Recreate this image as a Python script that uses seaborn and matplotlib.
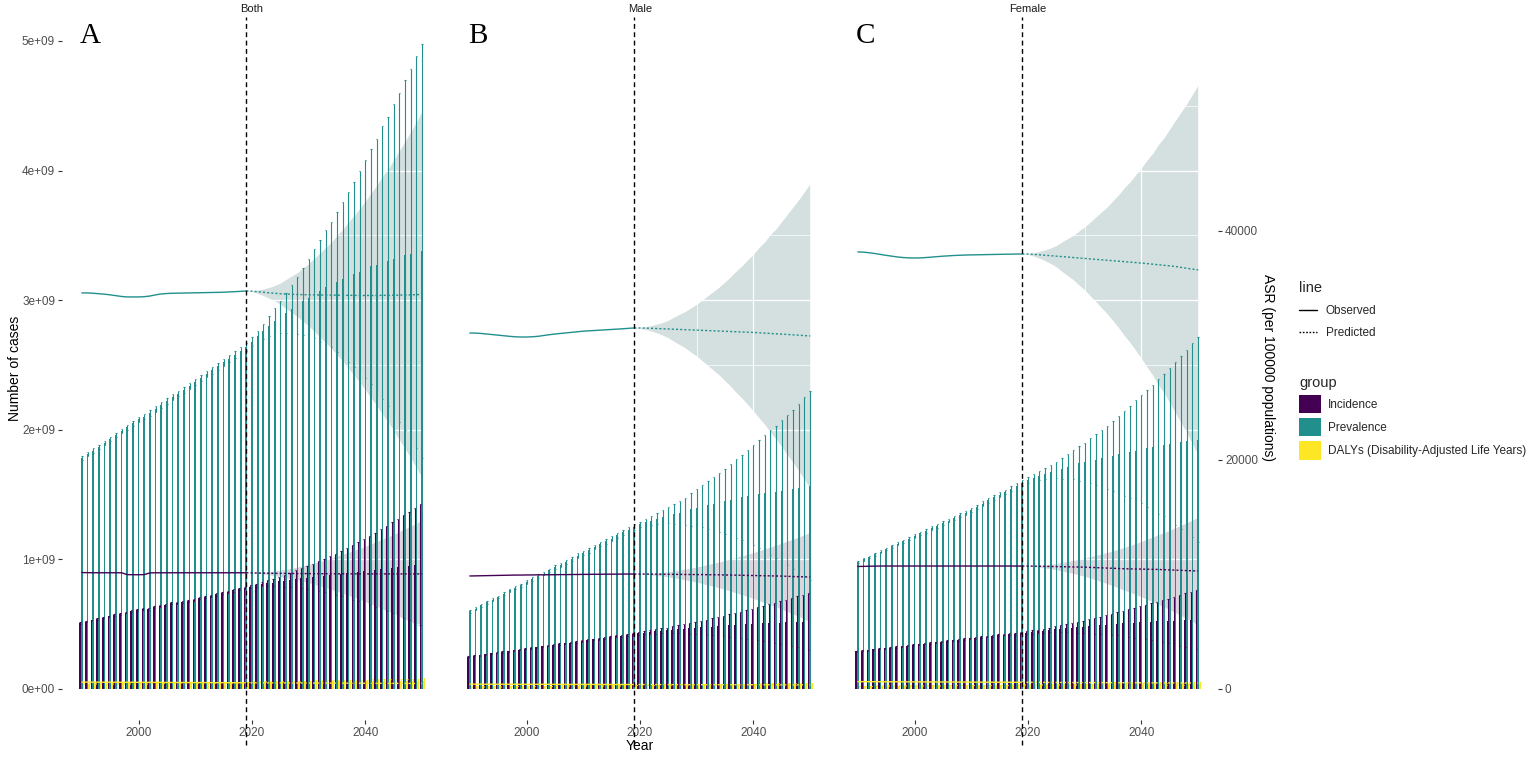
import numpy as np
import pandas as pd
import matplotlib
matplotlib.use("Agg")
import matplotlib.pyplot as plt
import seaborn as sns
from matplotlib.lines import Line2D
from matplotlib.patches import Patch

# ---------------- data ----------------
YEARS_OBS = list(range(1990, 2020))
YEARS_PRED = list(range(2020, 2051))
YEARS = YEARS_OBS + YEARS_PRED
GROUPS = ["Incidence", "Prevalence", "DALYs (Disability-Adjusted Life Years)"]
COLORS = ["#440154", "#21908C", "#FDE725"]
PANELS = ["Both", "Male", "Female"]
LETTERS = ["A", "B", "C"]

# number of cases (x 1e9), 1990-2050
both_inc = [0.51, 0.52, 0.53, 0.54, 0.55, 0.56, 0.57, 0.58, 0.59, 0.60, 0.61, 0.615, 0.62, 0.63, 0.64, 0.65, 0.66, 0.665, 0.67, 0.68,
            0.69, 0.70, 0.71, 0.72, 0.73, 0.74, 0.75, 0.76, 0.77, 0.78,
            0.79, 0.80, 0.81, 0.815, 0.82, 0.83, 0.835, 0.84, 0.85, 0.855, 0.86, 0.865, 0.87, 0.875, 0.88, 0.885, 0.89, 0.895, 0.90, 0.905,
            0.91, 0.915, 0.92, 0.925, 0.93, 0.935, 0.94, 0.945, 0.95, 0.955, 0.96]
both_inc_err = [0.006, 0.006, 0.006, 0.006, 0.006, 0.006, 0.007, 0.007, 0.007, 0.007, 0.007, 0.007, 0.007, 0.007, 0.008, 0.008, 0.008, 0.008, 0.008, 0.008,
                0.008, 0.009, 0.009, 0.009, 0.009, 0.009, 0.009, 0.010, 0.010, 0.010,
                0.011, 0.014, 0.018, 0.023, 0.029, 0.037, 0.047, 0.056, 0.065, 0.077, 0.088, 0.102, 0.116, 0.130, 0.143, 0.160, 0.176, 0.194, 0.210, 0.229,
                0.247, 0.268, 0.286, 0.309, 0.327, 0.350, 0.373, 0.396, 0.419, 0.445, 0.470]
both_prev = [1.78, 1.81, 1.84, 1.87, 1.90, 1.93, 1.96, 1.99, 2.02, 2.05, 2.08, 2.10, 2.13, 2.16, 2.19, 2.22, 2.25, 2.28, 2.31, 2.34,
             2.37, 2.40, 2.43, 2.46, 2.49, 2.52, 2.55, 2.58, 2.61, 2.64,
             2.68, 2.72, 2.76, 2.80, 2.84, 2.87, 2.90, 2.93, 2.96, 2.99, 3.02, 3.05, 3.07, 3.10, 3.12, 3.14, 3.16, 3.18, 3.20, 3.22,
             3.24, 3.26, 3.27, 3.29, 3.30, 3.32, 3.33, 3.35, 3.36, 3.37, 3.38]
both_prev_err = [0.015, 0.015, 0.016, 0.016, 0.017, 0.017, 0.018, 0.018, 0.019, 0.019, 0.020, 0.020, 0.021, 0.021, 0.022, 0.022, 0.023, 0.023, 0.024, 0.024,
                 0.025, 0.025, 0.026, 0.026, 0.027, 0.027, 0.028, 0.028, 0.029, 0.030,
                 0.035, 0.044, 0.058, 0.076, 0.096, 0.121, 0.156, 0.187, 0.218, 0.259, 0.297, 0.344, 0.391, 0.438, 0.485, 0.540, 0.595, 0.658, 0.713, 0.776,
                 0.839, 0.909, 0.972, 1.051, 1.113, 1.192, 1.270, 1.349, 1.427, 1.514, 1.600]
both_daly = [0.040, 0.040, 0.041, 0.041, 0.042, 0.042, 0.043, 0.043, 0.044, 0.044, 0.045, 0.045, 0.046, 0.046, 0.047, 0.047, 0.048, 0.048, 0.049, 0.049,
             0.050, 0.050, 0.051, 0.051, 0.052, 0.052, 0.053, 0.053, 0.054, 0.054,
             0.055, 0.055, 0.055, 0.056, 0.056, 0.056, 0.057, 0.057, 0.057, 0.058, 0.058, 0.058, 0.059, 0.059, 0.059, 0.060, 0.060, 0.060, 0.061, 0.061,
             0.061, 0.062, 0.062, 0.062, 0.063, 0.063, 0.063, 0.064, 0.064, 0.064, 0.065]
both_daly_err = [0.003, 0.003, 0.003, 0.003, 0.003, 0.003, 0.003, 0.003, 0.003, 0.003, 0.003, 0.003, 0.003, 0.003, 0.003, 0.003, 0.003, 0.003, 0.003, 0.003,
                 0.003, 0.003, 0.003, 0.003, 0.003, 0.003, 0.003, 0.003, 0.003, 0.003,
                 0.004, 0.004, 0.004, 0.005, 0.005, 0.005, 0.006, 0.006, 0.006, 0.007, 0.007, 0.008, 0.008, 0.009, 0.009, 0.010, 0.010, 0.011, 0.011, 0.012,
                 0.012, 0.013, 0.013, 0.014, 0.014, 0.015, 0.015, 0.016, 0.016, 0.017, 0.018]

male_inc = [0.25, 0.256, 0.262, 0.268, 0.274, 0.28, 0.286, 0.292, 0.298, 0.304, 0.31, 0.316, 0.322, 0.328, 0.334, 0.34, 0.346, 0.352, 0.358, 0.364,
            0.37, 0.376, 0.382, 0.388, 0.394, 0.40, 0.406, 0.412, 0.418, 0.424,
            0.43, 0.435, 0.44, 0.444, 0.448, 0.452, 0.456, 0.46, 0.464, 0.468, 0.472, 0.475, 0.478, 0.481, 0.484, 0.487, 0.49, 0.493, 0.496, 0.499,
            0.502, 0.504, 0.506, 0.508, 0.51, 0.512, 0.514, 0.516, 0.518, 0.52, 0.522]
male_inc_err = [0.004, 0.004, 0.004, 0.004, 0.004, 0.004, 0.005, 0.005, 0.005, 0.005, 0.005, 0.005, 0.005, 0.005, 0.006, 0.006, 0.006, 0.006, 0.006, 0.006,
                0.006, 0.007, 0.007, 0.007, 0.007, 0.007, 0.007, 0.008, 0.008, 0.008,
                0.011, 0.012, 0.014, 0.016, 0.019, 0.022, 0.027, 0.031, 0.035, 0.041, 0.046, 0.052, 0.058, 0.065, 0.071, 0.078, 0.086, 0.094, 0.101, 0.110,
                0.118, 0.128, 0.136, 0.147, 0.155, 0.165, 0.176, 0.186, 0.197, 0.208, 0.220]
male_prev = [0.60, 0.62, 0.645, 0.67, 0.69, 0.71, 0.735, 0.76, 0.78, 0.80, 0.825, 0.85, 0.87, 0.89, 0.915, 0.94, 0.96, 0.98, 1.005, 1.03,
             1.05, 1.07, 1.095, 1.12, 1.14, 1.16, 1.185, 1.21, 1.23, 1.25,
             1.27, 1.285, 1.30, 1.315, 1.33, 1.34, 1.35, 1.36, 1.37, 1.385, 1.40, 1.41, 1.42, 1.43, 1.44, 1.45, 1.46, 1.47, 1.48, 1.49,
             1.50, 1.505, 1.51, 1.515, 1.52, 1.53, 1.535, 1.54, 1.55, 1.56, 1.57]
male_prev_err = [0.010, 0.010, 0.010, 0.011, 0.011, 0.011, 0.012, 0.012, 0.012, 0.013, 0.013, 0.013, 0.014, 0.014, 0.014, 0.015, 0.015, 0.015, 0.016, 0.016,
                 0.016, 0.017, 0.017, 0.017, 0.018, 0.018, 0.018, 0.019, 0.019, 0.020,
                 0.022, 0.026, 0.033, 0.041, 0.050, 0.061, 0.077, 0.091, 0.105, 0.124, 0.141, 0.162, 0.183, 0.205, 0.226, 0.251, 0.276, 0.304, 0.329, 0.357,
                 0.386, 0.418, 0.446, 0.482, 0.510, 0.545, 0.581, 0.616, 0.652, 0.691, 0.730]
male_daly = [0.020, 0.020, 0.020, 0.021, 0.021, 0.021, 0.022, 0.022, 0.022, 0.023, 0.023, 0.023, 0.024, 0.024, 0.024, 0.025, 0.025, 0.025, 0.026, 0.026,
             0.026, 0.027, 0.027, 0.027, 0.028, 0.028, 0.028, 0.029, 0.029, 0.029,
             0.030, 0.030, 0.030, 0.030, 0.031, 0.031, 0.031, 0.031, 0.032, 0.032, 0.032, 0.032, 0.033, 0.033, 0.033, 0.033, 0.034, 0.034, 0.034, 0.034,
             0.035, 0.035, 0.035, 0.035, 0.036, 0.036, 0.036, 0.036, 0.037, 0.037, 0.037]
male_daly_err = [0.002, 0.002, 0.002, 0.002, 0.002, 0.002, 0.002, 0.002, 0.002, 0.002, 0.002, 0.002, 0.002, 0.002, 0.002, 0.002, 0.002, 0.002, 0.002, 0.002,
                 0.002, 0.002, 0.002, 0.002, 0.002, 0.002, 0.002, 0.002, 0.002, 0.002,
                 0.003, 0.003, 0.003, 0.003, 0.003, 0.004, 0.004, 0.004, 0.004, 0.005, 0.005, 0.005, 0.005, 0.006, 0.006, 0.006, 0.006, 0.007, 0.007, 0.007,
                 0.007, 0.008, 0.008, 0.008, 0.008, 0.009, 0.009, 0.009, 0.009, 0.010, 0.010]

female_inc = [0.29, 0.295, 0.30, 0.305, 0.31, 0.315, 0.32, 0.325, 0.33, 0.335, 0.34, 0.345, 0.35, 0.355, 0.36, 0.365, 0.37, 0.375, 0.38, 0.385,
              0.39, 0.395, 0.40, 0.405, 0.41, 0.415, 0.42, 0.423, 0.427, 0.43,
              0.435, 0.44, 0.445, 0.45, 0.455, 0.46, 0.464, 0.468, 0.472, 0.476, 0.48, 0.484, 0.488, 0.492, 0.496, 0.50, 0.503, 0.506, 0.509, 0.512,
              0.515, 0.517, 0.519, 0.521, 0.523, 0.525, 0.527, 0.529, 0.531, 0.533, 0.535]
female_inc_err = [0.004, 0.004, 0.004, 0.004, 0.004, 0.004, 0.005, 0.005, 0.005, 0.005, 0.005, 0.005, 0.005, 0.005, 0.006, 0.006, 0.006, 0.006, 0.006, 0.006,
                  0.006, 0.007, 0.007, 0.007, 0.007, 0.007, 0.007, 0.008, 0.008, 0.008,
                  0.011, 0.012, 0.014, 0.016, 0.019, 0.023, 0.028, 0.032, 0.036, 0.042, 0.047, 0.054, 0.061, 0.067, 0.074, 0.082, 0.089, 0.098, 0.106, 0.115,
                  0.123, 0.133, 0.142, 0.153, 0.162, 0.173, 0.184, 0.195, 0.206, 0.218, 0.230]
female_prev = [0.98, 1.00, 1.02, 1.04, 1.06, 1.08, 1.10, 1.12, 1.14, 1.16, 1.18, 1.20, 1.22, 1.24, 1.26, 1.28, 1.30, 1.32, 1.34, 1.36,
               1.38, 1.405, 1.43, 1.455, 1.48, 1.50, 1.52, 1.545, 1.57, 1.59,
               1.61, 1.63, 1.645, 1.66, 1.675, 1.69, 1.70, 1.715, 1.73, 1.74, 1.75, 1.76, 1.77, 1.78, 1.79, 1.80, 1.81, 1.82, 1.83, 1.84,
               1.85, 1.858, 1.866, 1.874, 1.882, 1.89, 1.897, 1.904, 1.911, 1.918, 1.925]
female_prev_err = [0.010, 0.010, 0.010, 0.011, 0.011, 0.011, 0.012, 0.012, 0.012, 0.013, 0.013, 0.013, 0.014, 0.014, 0.014, 0.015, 0.015, 0.015, 0.016, 0.016,
                   0.016, 0.017, 0.017, 0.017, 0.018, 0.018, 0.018, 0.019, 0.019, 0.020,
                   0.022, 0.027, 0.034, 0.042, 0.052, 0.065, 0.082, 0.097, 0.112, 0.132, 0.151, 0.174, 0.197, 0.220, 0.243, 0.270, 0.297, 0.328, 0.355, 0.386,
                   0.417, 0.451, 0.482, 0.521, 0.551, 0.590, 0.628, 0.667, 0.705, 0.748, 0.790]
female_daly = [0.024, 0.024, 0.024, 0.025, 0.025, 0.025, 0.026, 0.026, 0.026, 0.027, 0.027, 0.027, 0.028, 0.028, 0.028, 0.029, 0.029, 0.029, 0.030, 0.030,
               0.030, 0.031, 0.031, 0.031, 0.032, 0.032, 0.032, 0.033, 0.033, 0.033,
               0.034, 0.034, 0.034, 0.034, 0.035, 0.035, 0.035, 0.035, 0.036, 0.036, 0.036, 0.036, 0.037, 0.037, 0.037, 0.037, 0.038, 0.038, 0.038, 0.038,
               0.039, 0.039, 0.039, 0.039, 0.040, 0.040, 0.040, 0.040, 0.041, 0.041, 0.041]
female_daly_err = male_daly_err

# age-standardised rates (per 100000): observed 1990-2019, predicted 2020-2050, CI half-width 2020-2050
both_asr_prev_obs = [34590, 34590, 34560, 34520, 34480, 34420, 34350, 34280, 34240, 34240, 34240, 34260, 34320, 34420, 34500, 34540, 34560, 34570, 34580, 34590,
                     34600, 34610, 34620, 34630, 34640, 34650, 34680, 34700, 34730, 34760]
both_asr_prev_pred = [34740, 34700, 34650, 34600, 34560, 34520, 34490, 34470, 34450, 34440, 34430, 34420, 34410, 34400, 34400, 34390, 34390, 34380, 34380, 34370,
                      34370, 34370, 34370, 34380, 34380, 34390, 34400, 34410, 34420, 34440, 34460]
both_asr_prev_ci = [48, 144, 288, 464, 672, 928, 1280, 1600, 1920, 2336, 2720, 3200, 3680, 4160, 4640, 5200, 5760, 6400, 6960, 7600,
                    8240, 8960, 9600, 10400, 11040, 11840, 12640, 13440, 14240, 15120, 16000]
both_asr_inc_obs = [10170, 10160, 10150, 10150, 10150, 10150, 10150, 10150, 9990, 9980, 9980, 9990, 10140, 10150, 10150, 10150, 10150, 10150, 10150, 10150,
                    10150, 10150, 10150, 10150, 10150, 10150, 10150, 10150, 10150, 10150]
both_asr_inc_pred = [10140, 10130, 10120, 10110, 10100, 10100, 10090, 10090, 10080, 10080, 10080, 10070, 10070, 10070, 10060, 10060, 10060, 10060, 10060, 10050,
                     10050, 10050, 10050, 10050, 10050, 10050, 10050, 10050, 10050, 10050, 10050]
both_asr_inc_ci = [14, 42, 85, 136, 197, 273, 376, 470, 564, 686, 799, 940, 1081, 1222, 1363, 1528, 1692, 1880, 2045, 2233,
                   2421, 2632, 2820, 3055, 3243, 3478, 3713, 3948, 4183, 4442, 4700]
both_asr_daly_obs = [600, 600, 598, 596, 594, 592, 590, 588, 586, 584, 582, 580, 578, 576, 574, 572, 570, 568, 566, 564,
                     562, 560, 558, 556, 554, 552, 550, 548, 546, 544]
both_asr_daly_pred = [542, 540, 538, 536, 534, 532, 530, 528, 526, 524, 522, 520, 518, 516, 514, 512, 510, 508, 506, 504,
                      502, 500, 498, 496, 494, 492, 490, 488, 486, 484, 482]

male_asr_prev_obs = [31090, 31080, 31050, 31000, 30950, 30900, 30850, 30800, 30760, 30740, 30740, 30760, 30800, 30870, 30940, 31000, 31050, 31100, 31150, 31200,
                     31250, 31280, 31310, 31340, 31370, 31400, 31430, 31460, 31500, 31530]
male_asr_prev_pred = [31530, 31520, 31500, 31480, 31460, 31440, 31420, 31400, 31380, 31360, 31340, 31320, 31300, 31280, 31260, 31240, 31220, 31200, 31180, 31160,
                      31140, 31110, 31080, 31050, 31020, 30990, 30960, 30930, 30900, 30860, 30830]
male_asr_prev_ci = [40, 120, 239, 386, 559, 771, 1064, 1330, 1596, 1942, 2261, 2660, 3059, 3458, 3857, 4323, 4788, 5320, 5786, 6318,
                    6850, 7448, 7980, 8645, 9177, 9842, 10507, 11172, 11837, 12569, 13300]
male_asr_inc_obs = [9870, 9880, 9890, 9900, 9910, 9920, 9930, 9940, 9950, 9950, 9960, 9960, 9970, 9970, 9980, 9980, 9990, 9990, 10000, 10000,
                    10010, 10010, 10020, 10020, 10030, 10030, 10030, 10040, 10040, 10040]
male_asr_inc_pred = [10040, 10040, 10030, 10030, 10020, 10020, 10010, 10010, 10000, 10000, 9990, 9990, 9980, 9980, 9970, 9960, 9950, 9940, 9930, 9920,
                     9910, 9900, 9890, 9880, 9870, 9860, 9840, 9820, 9810, 9790, 9780]
male_asr_inc_ci = [12, 35, 70, 113, 164, 226, 312, 390, 468, 569, 663, 780, 897, 1014, 1131, 1268, 1404, 1560, 1697, 1853,
                   2009, 2184, 2340, 2535, 2691, 2886, 3081, 3276, 3471, 3686, 3900]
male_asr_daly_obs = [420, 420, 419, 418, 417, 416, 415, 414, 413, 412, 411, 410, 409, 408, 407, 406, 405, 404, 403, 402,
                     401, 400, 399, 398, 397, 396, 395, 394, 393, 392]
male_asr_daly_pred = [391, 390, 389, 388, 387, 386, 385, 384, 383, 382, 381, 380, 379, 378, 377, 376, 375, 374, 373, 372,
                      371, 370, 369, 368, 367, 366, 365, 364, 363, 362, 361]

female_asr_prev_obs = [38170, 38150, 38100, 38030, 37950, 37870, 37800, 37730, 37680, 37650, 37640, 37650, 37680, 37720, 37760, 37800, 37830, 37860, 37880, 37900,
                       37910, 37920, 37930, 37940, 37950, 37960, 37970, 37975, 37985, 37990]
female_asr_prev_pred = [37990, 37960, 37920, 37880, 37840, 37800, 37760, 37720, 37680, 37640, 37600, 37560, 37520, 37480, 37440, 37400, 37360, 37320, 37280, 37240,
                        37200, 37150, 37100, 37050, 37000, 36950, 36900, 36820, 36740, 36670, 36600]
female_asr_prev_ci = [48, 145, 291, 468, 678, 937, 1292, 1615, 1938, 2358, 2746, 3230, 3715, 4199, 4684, 5249, 5814, 6460, 7025, 7671,
                      8317, 9044, 9690, 10498, 11144, 11951, 12759, 13566, 14374, 15262, 16150]
female_asr_inc_obs = [10700, 10710, 10720, 10730, 10740, 10740, 10740, 10740, 10740, 10740, 10740, 10740, 10740, 10740, 10740, 10740, 10740, 10740, 10740, 10740,
                      10740, 10740, 10740, 10740, 10740, 10740, 10740, 10740, 10740, 10740]
female_asr_inc_pred = [10740, 10730, 10720, 10710, 10700, 10690, 10680, 10670, 10660, 10650, 10640, 10620, 10600, 10580, 10560, 10540, 10520, 10500, 10490, 10480,
                       10470, 10460, 10450, 10440, 10420, 10400, 10380, 10360, 10340, 10320, 10310]
female_asr_inc_ci = [14, 42, 85, 136, 197, 273, 376, 470, 564, 686, 799, 940, 1081, 1222, 1363, 1528, 1692, 1880, 2045, 2233,
                     2421, 2632, 2820, 3055, 3243, 3478, 3713, 3948, 4183, 4442, 4700]
female_asr_daly_obs = [640, 640, 638, 636, 634, 632, 630, 628, 626, 624, 622, 620, 618, 616, 614, 612, 610, 608, 606, 604,
                       602, 600, 598, 596, 594, 592, 590, 588, 586, 584]
female_asr_daly_pred = [582, 580, 578, 576, 574, 572, 570, 568, 566, 564, 562, 560, 558, 556, 554, 552, 550, 548, 546, 544,
                        542, 540, 538, 536, 534, 532, 530, 528, 526, 524, 522]

# cases per one unit of ASR on the shared vertical scale (right axis 40000 <-> 3.534e9 cases)
K = 3.534e9 / 40000.0

panel_data = [
    dict(bars=(both_inc, both_prev, both_daly), errs=(both_inc_err, both_prev_err, both_daly_err),
         asr_obs=(both_asr_inc_obs, both_asr_prev_obs, both_asr_daly_obs),
         asr_pred=(both_asr_inc_pred, both_asr_prev_pred, both_asr_daly_pred),
         asr_ci=(both_asr_inc_ci, both_asr_prev_ci)),
    dict(bars=(male_inc, male_prev, male_daly), errs=(male_inc_err, male_prev_err, male_daly_err),
         asr_obs=(male_asr_inc_obs, male_asr_prev_obs, male_asr_daly_obs),
         asr_pred=(male_asr_inc_pred, male_asr_prev_pred, male_asr_daly_pred),
         asr_ci=(male_asr_inc_ci, male_asr_prev_ci)),
    dict(bars=(female_inc, female_prev, female_daly), errs=(female_inc_err, female_prev_err, female_daly_err),
         asr_obs=(female_asr_inc_obs, female_asr_prev_obs, female_asr_daly_obs),
         asr_pred=(female_asr_inc_pred, female_asr_prev_pred, female_asr_daly_pred),
         asr_ci=(female_asr_inc_ci, female_asr_prev_ci)),
]
for pdict in panel_data:
    for s in pdict["bars"] + pdict["errs"]:
        assert len(s) == 61, len(s)
    for s in pdict["asr_obs"]:
        assert len(s) == 30, len(s)
    for s in pdict["asr_pred"] + pdict["asr_ci"]:
        assert len(s) == 31, len(s)

# ---------------- style ----------------
sns.set_theme(style="white")
plt.rcParams["font.family"] = ["Liberation Sans", "DejaVu Sans"]

W, H = 1535, 759
fig = plt.figure(figsize=(W / 100, H / 100), dpi=100)

PANEL_LEFT = [62, 450, 838]
PANEL_W = 380
TOP_PX, BOT_PX = 17, 720
XLIM = (1986.5, 2053.5)
YLIM = (-0.2392e9, 5.185e9)
PX_PER_CASE = (BOT_PX - TOP_PX) / (YLIM[1] - YLIM[0])
RIBBON_COL = ["#ddd4de", "#d4dfdf"]
TICK_COL = "#4d4d4d"
OFFS = [-0.3, 0.0, 0.3]

axes = []
for i, name in enumerate(PANELS):
    ax = fig.add_axes([PANEL_LEFT[i] / W, 1 - BOT_PX / H, PANEL_W / W, (BOT_PX - TOP_PX) / H])
    axes.append(ax)
    d = panel_data[i]

    # bars
    rows = []
    for g, vals in zip(GROUPS, d["bars"]):
        for y, v in zip(YEARS, vals):
            rows.append((y, g, v * 1e9))
    df = pd.DataFrame(rows, columns=["year", "group", "value"])
    sns.barplot(data=df, x="year", y="value", hue="group", hue_order=GROUPS, palette=COLORS,
                native_scale=True, width=0.9, dodge=True, errorbar=None, saturation=1,
                legend=False, ax=ax, zorder=3, linewidth=0)

    # error bars
    for gi, (vals, errs) in enumerate(zip(d["bars"], d["errs"])):
        x = np.array(YEARS) + OFFS[gi]
        v = np.array(vals) * 1e9
        e = np.array(errs) * 1e9
        ax.vlines(x, v - e, v + e, color=COLORS[gi], lw=0.8, zorder=4)
        ax.hlines(v + e, x - 0.12, x + 0.12, color=COLORS[gi], lw=0.8, zorder=4)
        ax.hlines(v - e, x - 0.12, x + 0.12, color=COLORS[gi], lw=0.8, zorder=4)

    # ASR ribbons (predicted)
    xp = [2019] + YEARS_PRED
    for gi in range(2):
        obs = d["asr_obs"][gi]
        pred = np.array([obs[-1]] + list(d["asr_pred"][gi]))
        ci = np.array([0] + list(d["asr_ci"][gi]))
        ax.fill_between(xp, (pred - ci) * K, (pred + ci) * K, color=RIBBON_COL[gi], lw=0, zorder=1)

    # ASR lines
    for gi in range(3):
        obs = d["asr_obs"][gi]
        sns.lineplot(x=YEARS_OBS, y=np.array(obs) * K, color=COLORS[gi], lw=1.0, ax=ax, zorder=5)
        pred = [obs[-1]] + list(d["asr_pred"][gi])
        sns.lineplot(x=xp, y=np.array(pred) * K, color=COLORS[gi], lw=1.0, ax=ax, zorder=5,
                     linestyle=(0, (1.5, 1.5)))

    # reference line at 2019 (runs a little below the panel, as in the original)
    y_low = YLIM[0] - (745 - BOT_PX) / PX_PER_CASE
    ax.plot([2019, 2019], [y_low, YLIM[1]], color="black", lw=1.0, ls=(0, (3.5, 2.5)),
            zorder=6, clip_on=False)

    ax.set_xlim(*XLIM)
    ax.set_ylim(*YLIM)
    ax.set_facecolor("white")
    for sp in ax.spines.values():
        sp.set_visible(False)
    ax.set_xticks([2000, 2020, 2040])
    ax.set_xticks([1990, 2010, 2030, 2050], minor=True)
    ax.set_yticks([0, 1e9, 2e9, 3e9, 4e9, 5e9])
    ax.set_yticks([0.5e9, 1.5e9, 2.5e9, 3.5e9, 4.5e9], minor=True)
    ax.set_axisbelow(False)
    ax.grid(True, which="major", color="white", lw=0.9)
    ax.grid(True, which="minor", color="white", lw=0.5)
    ax.tick_params(axis="x", which="major", bottom=True, length=3, width=0.8, color="#333333",
                   labelsize=8.5, labelcolor=TICK_COL, pad=2)
    ax.tick_params(axis="x", which="minor", bottom=False)
    ax.tick_params(axis="y", which="minor", left=False)
    if i == 0:
        ax.set_yticklabels(["0e+00", "1e+09", "2e+09", "3e+09", "4e+09", "5e+09"])
        ax.tick_params(axis="y", which="major", left=True, length=3, width=0.8, color="#333333",
                       labelsize=8.5, labelcolor=TICK_COL, pad=2)
    else:
        ax.tick_params(axis="y", which="major", left=False, labelleft=False)
    ax.set_xlabel("")
    ax.set_ylabel("")

    # strip title & panel letter
    fig.text((PANEL_LEFT[i] + PANEL_W / 2) / W, 1 - 9 / H, name, ha="center", va="center",
             fontsize=8, color="#1a1a1a")
    fig.text((PANEL_LEFT[i] + 18) / W, 1 - 43 / H, LETTERS[i], fontsize=21,
             family="Liberation Serif", ha="left", va="baseline", color="black")

# right ASR axis on panel C
axC = axes[2]
sec = axC.secondary_yaxis("right", functions=(lambda c: c / K, lambda a: a * K))
sec.set_yticks([0, 20000, 40000])
sec.set_yticklabels(["0", "20000", "40000"])
sec.tick_params(axis="y", length=3, width=0.8, color="#333333", labelsize=8.5, labelcolor=TICK_COL, pad=2)
for sp in sec.spines.values():
    sp.set_visible(False)

fig.text(1268 / W, 1 - 368 / H, "ASR (per 100000 populations)", rotation=270, ha="center", va="center",
         fontsize=10, color="black")
fig.text(15 / W, 1 - 368 / H, "Number of cases", rotation=90, ha="center", va="center",
         fontsize=10, color="black")
fig.text(640 / W, 1 - 746 / H, "Year", ha="center", va="center", fontsize=10, color="black")

# legends
h_line = [Line2D([], [], color="black", lw=1.0, ls="-"),
          Line2D([], [], color="black", lw=1.0, ls=(0, (1.2, 1.2)))]
leg1 = fig.legend(h_line, ["Observed", "Predicted"], title="line", loc="upper left",
                  bbox_to_anchor=(1299 / W, 1 - 281 / H), frameon=False, fontsize=8.5,
                  title_fontsize=10.5, handlelength=1.5, labelspacing=0.85, handletextpad=0.75,
                  alignment="left", borderaxespad=0, borderpad=0)
h_grp = [Patch(facecolor=c, edgecolor="none") for c in COLORS]
leg2 = fig.legend(h_grp, GROUPS, title="group", loc="upper left",
                  bbox_to_anchor=(1299 / W, 1 - 376 / H), frameon=False, fontsize=8.5,
                  title_fontsize=10.5, handlelength=1.85, handleheight=2.0, labelspacing=0.42,
                  handletextpad=0.6, alignment="left", borderaxespad=0, borderpad=0)

fig.savefig("out.png", dpi=100, facecolor="white")
